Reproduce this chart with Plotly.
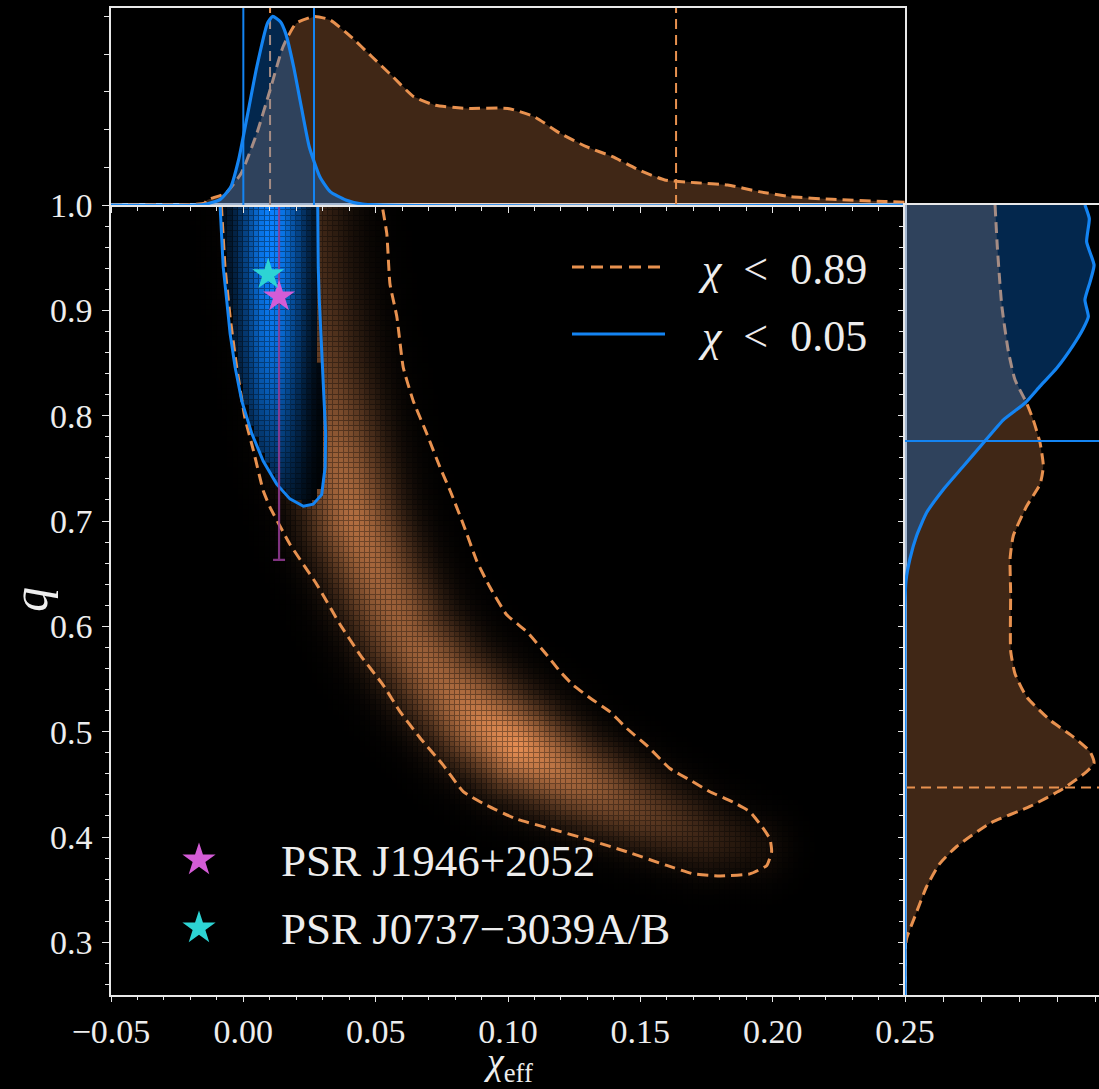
import numpy as np
import plotly.graph_objects as go

# ---------------- data ----------------
# top marginal: chi_eff densities (peak normalised to 1)
top_chi_wide = [-0.05, -0.020, -0.0146, -0.0137, -0.0067, -0.0008, 0.0051, 0.0101, 0.0150, 0.0199,
                0.0269, 0.0328, 0.0407, 0.0486, 0.0565, 0.0644, 0.0723, 0.0842, 0.1000, 0.1099,
                0.1197, 0.1296, 0.1395, 0.1494, 0.1592, 0.1711, 0.1830, 0.1948, 0.2067, 0.2225,
                0.2422, 0.25]
top_dens_wide = [0.0, 0.003, 0.010, 0.027, 0.062, 0.168, 0.380, 0.610, 0.839, 0.963,
                 1.000, 0.981, 0.892, 0.786, 0.680, 0.574, 0.530, 0.512, 0.512, 0.468,
                 0.380, 0.309, 0.256, 0.186, 0.133, 0.118, 0.106, 0.071, 0.044, 0.030,
                 0.019, 0.015]
top_chi_narrow = [-0.05, -0.015, -0.0087, -0.0047, -0.0018, 0.0012, 0.0051, 0.0091, 0.0111, 0.0140,
                  0.0160, 0.0190, 0.0219, 0.0249, 0.0289, 0.0328, 0.0387, 0.045, 0.25]
top_dens_narrow = [0.0, 0.002, 0.030, 0.097, 0.239, 0.451, 0.733, 0.963, 1.000, 0.972,
                   0.910, 0.733, 0.521, 0.309, 0.150, 0.071, 0.027, 0.005, 0.0]

# right marginal: q densities (peak normalised to 1)
right_q_wide = [1.0, 0.960, 0.905, 0.861, 0.834, 0.812, 0.796, 0.774, 0.752, 0.735,
                0.714, 0.686, 0.664, 0.632, 0.577, 0.555, 0.533, 0.511, 0.495, 0.481,
                0.470, 0.462, 0.446, 0.429, 0.413, 0.391, 0.375, 0.353, 0.325, 0.304,
                0.29, 0.25]
right_dens_wide = [0.474, 0.486, 0.509, 0.544, 0.579, 0.640, 0.675, 0.711, 0.728, 0.711,
                   0.640, 0.570, 0.553, 0.556, 0.556, 0.579, 0.640, 0.763, 0.886, 0.974,
                   0.995, 0.956, 0.833, 0.658, 0.447, 0.272, 0.184, 0.114, 0.053, 0.009,
                   0.0, 0.0]
right_q_narrow = [1.0, 0.987, 0.965, 0.943, 0.927, 0.910, 0.894, 0.883, 0.867, 0.845,
                  0.828, 0.812, 0.796, 0.774, 0.752, 0.730, 0.708, 0.686, 0.664, 0.643,
                  0.62, 0.25]
right_dens_narrow = [0.947, 0.970, 0.956, 0.995, 0.974, 0.947, 0.965, 0.939, 0.886, 0.798,
                     0.711, 0.632, 0.518, 0.412, 0.307, 0.202, 0.114, 0.061, 0.026, 0.005,
                     0.0, 0.0]

# credible-interval lines
chi_lines_wide = [0.0101, 0.1635]
chi_lines_narrow = [0.0, 0.0267]
q_lines_wide = [0.447]
q_lines_narrow = [0.776]

# 2D credible contours (open at q = 1)
cont_chi_wide = [-0.0083, -0.0069, -0.0050, -0.0025, 0.0006, 0.0038, 0.0075, 0.0101, 0.0176, 0.0277,
                 0.0365, 0.0441, 0.0529, 0.0592, 0.0668, 0.0756, 0.0831, 0.0920, 0.1033, 0.1159,
                 0.1297, 0.1449, 0.1600, 0.1700, 0.1801, 0.1914, 0.1978, 0.1996, 0.1990, 0.1965,
                 0.1914, 0.1851, 0.1763, 0.1688, 0.1612, 0.1524, 0.1449, 0.1385, 0.1310, 0.1247,
                 0.1197, 0.1146, 0.1071, 0.0995, 0.0932, 0.0882, 0.0831, 0.0781, 0.0743, 0.0693,
                 0.0642, 0.0604, 0.0580, 0.0554, 0.0542, 0.0524]
cont_q_wide = [1.0, 0.941, 0.894, 0.846, 0.798, 0.767, 0.729, 0.713, 0.678, 0.640,
               0.602, 0.573, 0.544, 0.519, 0.494, 0.468, 0.443, 0.430, 0.417, 0.408,
               0.398, 0.386, 0.373, 0.365, 0.363, 0.365, 0.373, 0.386, 0.398, 0.408,
               0.424, 0.433, 0.443, 0.454, 0.465, 0.487, 0.503, 0.519, 0.532, 0.544,
               0.557, 0.573, 0.595, 0.611, 0.637, 0.662, 0.697, 0.729, 0.751, 0.783,
               0.814, 0.846, 0.894, 0.925, 0.973, 1.0]
cont_chi_narrow = [-0.0088, -0.0082, -0.0076, -0.0063, -0.0050, -0.0031, -0.0006, 0.0032, 0.0075, 0.0126,
                   0.0176, 0.0227, 0.0264, 0.0296, 0.0309, 0.0311, 0.0305, 0.0300, 0.0292, 0.0287,
                   0.0283, 0.0281, 0.0281]
cont_q_narrow = [1.0, 0.973, 0.941, 0.910, 0.878, 0.846, 0.814, 0.783, 0.757, 0.735,
                 0.721, 0.714, 0.716, 0.725, 0.751, 0.783, 0.814, 0.846, 0.878, 0.910,
                 0.941, 0.973, 1.0]

# density ridges (centre line, relative brightness, width in px)
ridge_chi_wide = [0.020, 0.024, 0.030, 0.036, 0.042, 0.052, 0.062, 0.076, 0.090, 0.104, 0.125, 0.150, 0.175, 0.193]
ridge_q_wide = [1.02, 0.93, 0.84, 0.76, 0.70, 0.64, 0.59, 0.545, 0.51, 0.485, 0.455, 0.425, 0.40, 0.39]
ridge_amp_wide = [0.30, 0.35, 0.45, 0.68, 0.78, 0.70, 0.66, 0.72, 0.90, 1.00, 0.72, 0.45, 0.25, 0.12]
ridge_w_wide = [34, 34, 33, 32, 31, 31, 31, 31, 31, 30, 28, 26, 24, 22]
ridge_chi_narrow = [0.011, 0.011, 0.011, 0.011, 0.012, 0.014]
ridge_q_narrow = [1.02, 0.95, 0.88, 0.82, 0.77, 0.73]
ridge_amp_narrow = [1.0, 1.0, 0.9, 0.72, 0.48, 0.28]
ridge_w_narrow = [23, 23, 22, 21, 20, 18]

# pulsars
psr_names = ["PSR J1946+2052", "PSR J0737\u22123039A/B"]
psr_chi = [0.0135, 0.0094]
psr_q = [0.913, 0.934]
psr_q_err = [0.25, 0.0]
psr_colors = ["#D45CD6", "#2DD4D4"]

legend_labels = ["<i>\u03c7</i>\u2002&lt;\u20020.89", "<i>\u03c7</i>\u2002&lt;\u20020.05"]

# ---------------- styling ----------------
W, H = 1099, 1089
ORANGE = "#E8914F"
ORANGE_HEAT = "#E38C52"
BLUE = "#1484F2"
BLUE_HEAT = "#0A80FF"
FONT = "Liberation Serif"
TXT = "#EDEDED"

X0, X1 = 111, 905       # main panel px
YT, YB = 205, 995
TOP_T = 8
XR = [-0.05, 0.25]
YR = [0.25, 1.0]

def px(xp):
    return xp / W

def py(yp):
    return 1 - yp / H

# ---------------- density grids ----------------
gx = np.linspace(-0.049, 0.249, 150)
gy = np.linspace(0.2525, 0.9975, 150)
GX, GY = np.meshgrid(gx, gy)
SX = (X1 - X0) / (XR[1] - XR[0])
SY = (YB - YT) / (YR[1] - YR[0])


def ridge_field(cx, cy, amp, wid):
    Xp, Yp = GX * SX, GY * SY
    best = np.zeros_like(GX)
    for i in range(len(cx) - 1):
        ax_, ay_ = cx[i] * SX, cy[i] * SY
        bx_, by_ = cx[i + 1] * SX, cy[i + 1] * SY
        dx, dy = bx_ - ax_, by_ - ay_
        L2 = dx * dx + dy * dy
        t = np.clip(((Xp - ax_) * dx + (Yp - ay_) * dy) / L2, 0, 1)
        d2 = (Xp - ax_ - t * dx) ** 2 + (Yp - ay_ - t * dy) ** 2
        a = amp[i] + t * (amp[i + 1] - amp[i])
        s = wid[i] + t * (wid[i + 1] - wid[i])
        best = np.maximum(best, a * np.exp(-d2 / (2 * s * s)))
    return best


def inside(polx, poly, X, Y):
    polx = np.asarray(polx); poly = np.asarray(poly)
    res = np.zeros(X.shape, bool)
    n = len(polx)
    j = n - 1
    for i in range(n):
        xi, yi, xj, yj = polx[i], poly[i], polx[j], poly[j]
        if yi != yj:
            cond = ((yi > Y) != (yj > Y)) & (X < (xj - xi) * (Y - yi) / (yj - yi) + xi)
            res ^= cond
        j = i
    return res


z_wide = ridge_field(ridge_chi_wide, ridge_q_wide, ridge_amp_wide, ridge_w_wide)
z_narrow = ridge_field(ridge_chi_narrow, ridge_q_narrow, ridge_amp_narrow, ridge_w_narrow)
pcx = cont_chi_narrow + [cont_chi_narrow[0]]
pcy = cont_q_narrow + [cont_q_narrow[0]]
mask_n = (inside(pcx, pcy, GX - 0.0009, GY) & inside(pcx, pcy, GX + 0.0009, GY)
          & inside(pcx, pcy, GX, GY - 0.002))
z_narrow = np.where(mask_n, z_narrow, np.nan)


def dim(hexc, f):
    h = hexc.lstrip('#')
    r, g, b = int(h[0:2], 16), int(h[2:4], 16), int(h[4:6], 16)
    return f"rgb({int(r*f)},{int(g*f)},{int(b*f)})"


fig = go.Figure()

for z, col in [(z_wide, ORANGE_HEAT), (z_narrow, BLUE_HEAT)]:
    fig.add_trace(go.Heatmap(x=gx, y=gy, z=z, zmin=0, zmax=1, showscale=False,
                             colorscale=[[0, "#000000"], [1, dim(col, 0.65)]],
                             hoverinfo="skip", xaxis="x", yaxis="y"))
    fig.add_trace(go.Heatmap(x=gx, y=gy, z=z, zmin=0, zmax=1, showscale=False,
                             colorscale=[[0, "#000000"], [1, col]], xgap=1, ygap=1,
                             hoverinfo="skip", xaxis="x", yaxis="y"))

# contours
fig.add_trace(go.Scatter(x=cont_chi_wide, y=cont_q_wide, mode="lines",
                         line=dict(color=ORANGE, width=3, dash="11px,6px", shape="spline", smoothing=0.4),
                         hoverinfo="skip", xaxis="x", yaxis="y"))
fig.add_trace(go.Scatter(x=cont_chi_narrow, y=cont_q_narrow, mode="lines",
                         line=dict(color=BLUE, width=3),
                         hoverinfo="skip", xaxis="x", yaxis="y"))

# pulsars
for i in range(len(psr_names)):
    err = dict(type="data", array=[psr_q_err[i]], visible=psr_q_err[i] > 0,
               color="rgba(150,60,150,0.85)", thickness=2.2, width=6)
    fig.add_trace(go.Scatter(x=[psr_chi[i]], y=[psr_q[i]], mode="markers",
                             marker=dict(symbol="star", size=24, color=psr_colors[i], line=dict(width=0)),
                             error_y=err, hoverinfo="skip", xaxis="x", yaxis="y"))

# top marginal
YTOP = [0, 1.0446]
fig.add_trace(go.Scatter(x=top_chi_wide, y=top_dens_wide, mode="lines", fill="tozeroy",
                         fillcolor="rgba(230,140,80,0.28)", line=dict(width=0),
                         hoverinfo="skip", xaxis="x2", yaxis="y2"))
fig.add_trace(go.Scatter(x=top_chi_wide, y=top_dens_wide, mode="lines",
                         line=dict(color=ORANGE, width=3, dash="11px,6px", shape="spline", smoothing=0.5),
                         hoverinfo="skip", xaxis="x2", yaxis="y2"))
for v in chi_lines_wide:
    fig.add_trace(go.Scatter(x=[v, v], y=YTOP, mode="lines",
                             line=dict(color=ORANGE, width=2, dash="10px,6px"),
                             hoverinfo="skip", xaxis="x2", yaxis="y2"))
fig.add_trace(go.Scatter(x=top_chi_narrow, y=top_dens_narrow, mode="lines", fill="tozeroy",
                         fillcolor="rgba(10,128,255,0.30)", line=dict(width=0),
                         hoverinfo="skip", xaxis="x2", yaxis="y2"))
fig.add_trace(go.Scatter(x=top_chi_narrow, y=top_dens_narrow, mode="lines",
                         line=dict(color=BLUE, width=3.2, shape="spline", smoothing=0.5),
                         hoverinfo="skip", xaxis="x2", yaxis="y2"))
for v in chi_lines_narrow:
    fig.add_trace(go.Scatter(x=[v, v], y=YTOP, mode="lines",
                             line=dict(color=BLUE, width=2),
                             hoverinfo="skip", xaxis="x2", yaxis="y2"))

# right marginal
XRIGHT = [0, (W - X1) / 190.0]
fig.add_trace(go.Scatter(x=right_dens_wide, y=right_q_wide, mode="lines", fill="tozerox",
                         fillcolor="rgba(230,140,80,0.28)", line=dict(width=0),
                         hoverinfo="skip", xaxis="x3", yaxis="y3"))
fig.add_trace(go.Scatter(x=right_dens_wide, y=right_q_wide, mode="lines",
                         line=dict(color=ORANGE, width=3, dash="11px,6px", shape="spline", smoothing=0.5),
                         hoverinfo="skip", xaxis="x3", yaxis="y3"))
for v in q_lines_wide:
    fig.add_trace(go.Scatter(x=XRIGHT, y=[v, v], mode="lines",
                             line=dict(color=ORANGE, width=2, dash="10px,6px"),
                             hoverinfo="skip", xaxis="x3", yaxis="y3"))
fig.add_trace(go.Scatter(x=right_dens_narrow, y=right_q_narrow, mode="lines", fill="tozerox",
                         fillcolor="rgba(10,128,255,0.30)", line=dict(width=0),
                         hoverinfo="skip", xaxis="x3", yaxis="y3"))
fig.add_trace(go.Scatter(x=right_dens_narrow, y=right_q_narrow, mode="lines",
                         line=dict(color=BLUE, width=3.2, shape="spline", smoothing=0.5),
                         hoverinfo="skip", xaxis="x3", yaxis="y3"))
for v in q_lines_narrow:
    fig.add_trace(go.Scatter(x=XRIGHT, y=[v, v], mode="lines",
                             line=dict(color=BLUE, width=2),
                             hoverinfo="skip", xaxis="x3", yaxis="y3"))

# legend glyphs for the pulsar stars (overlay axis in pixel units)
leg_star_x = [199, 199]
leg_star_y = [860, 928]
for i in range(len(psr_names)):
    fig.add_trace(go.Scatter(x=[leg_star_x[i]], y=[leg_star_y[i]], mode="markers",
                             marker=dict(symbol="star", size=25, color=psr_colors[i], line=dict(width=0)),
                             hoverinfo="skip", xaxis="x4", yaxis="y4", cliponaxis=False))

tickfont = dict(family=FONT, size=34, color=TXT)
common = dict(showline=True, linecolor="#E8E8E8", linewidth=1.5, mirror=True, automargin=False,
              showgrid=False, zeroline=False, tickcolor="#E8E8E8", ticks="outside")

fig.update_layout(
    width=W, height=H, margin=dict(l=0, r=0, t=0, b=0, pad=0, autoexpand=False),
    paper_bgcolor="black", plot_bgcolor="rgba(0,0,0,0)", showlegend=False,
    xaxis=dict(domain=[px(X0), px(X1)], range=XR, anchor="y", dtick=0.05, tick0=0,
               tickformat=".2f", ticklen=5, tickwidth=1.3, tickfont=tickfont,
               minor=dict(dtick=0.01, ticklen=3, tickcolor="#E8E8E8", ticks="outside"), **common),
    yaxis=dict(domain=[py(YB), py(YT)], range=YR, anchor="x", dtick=0.1, tick0=0,
               tickformat=".1f", ticklen=7, tickwidth=1.3, tickfont=tickfont,
               ticklabelstandoff=3,
               minor=dict(dtick=0.02, ticklen=4, tickcolor="#E8E8E8", ticks="outside"), **common),
    xaxis2=dict(domain=[px(X0), px(X1)], range=XR, anchor="y2", dtick=0.05, tick0=0,
                showticklabels=False, ticklen=6, tickwidth=1.2,
                minor=dict(dtick=0.01, ticklen=4, tickcolor="#E8E8E8", ticks="outside"), **common),
    yaxis2=dict(domain=[py(YT), py(TOP_T)], range=YTOP, anchor="x2", dtick=0.2, tick0=0,
                showticklabels=False, ticklen=5, tickwidth=1.2, **common),
    xaxis3=dict(domain=[px(X1), 1.0], range=XRIGHT, anchor="y3", dtick=0.2, tick0=0,
                showticklabels=False, ticklen=5, tickwidth=1.2, **common),
    yaxis3=dict(domain=[py(YB), py(YT)], range=YR, anchor="x3", dtick=0.1, tick0=0,
                showticklabels=False, ticklen=5, tickwidth=1.2,
                minor=dict(dtick=0.02, ticklen=4, tickcolor="#E8E8E8", ticks="outside"),
                **{**common, "mirror": False}),
    xaxis4=dict(domain=[0, 1], range=[0, W], visible=False, anchor="y4", automargin=False),
    yaxis4=dict(domain=[0, 1], range=[H, 0], visible=False, anchor="x4", automargin=False),
)

# legend for contours
leg_line_y = [267, 334]
leg_styles = [dict(color=ORANGE, width=3, dash="12px,7px"), dict(color=BLUE, width=3.2)]
annotations = []
shapes = []
for i in range(2):
    shapes.append(dict(type="line", xref="paper", yref="paper", x0=px(572), x1=px(665),
                       y0=py(leg_line_y[i]), y1=py(leg_line_y[i]), line=leg_styles[i]))
    annotations.append(dict(text=legend_labels[i], xref="paper", yref="paper",
                            x=px(696), y=py(leg_line_y[i] + 2), xanchor="left", yanchor="middle",
                            showarrow=False, font=dict(family=FONT, size=44, color=TXT)))
for i in range(len(psr_names)):
    annotations.append(dict(text=psr_names[i], xref="paper", yref="paper",
                            x=px(279), y=py(leg_star_y[i] + 1), xanchor="left", yanchor="middle",
                            showarrow=False, font=dict(family=FONT, size=45, color=TXT)))
annotations.append(dict(text="<i>\u03c7</i><sub>eff</sub>", xref="paper", yref="paper",
                        x=px(508), y=py(1064), xanchor="center", yanchor="middle", showarrow=False,
                        font=dict(family=FONT, size=38, color=TXT)))
annotations.append(dict(text="<i>q</i>", xref="paper", yref="paper", textangle=-90,
                        x=px(30), y=py(600), xanchor="center", yanchor="middle", showarrow=False,
                        font=dict(family=FONT, size=50, color=TXT)))
fig.update_layout(annotations=annotations, shapes=shapes)

fig.write_html("out.html")
